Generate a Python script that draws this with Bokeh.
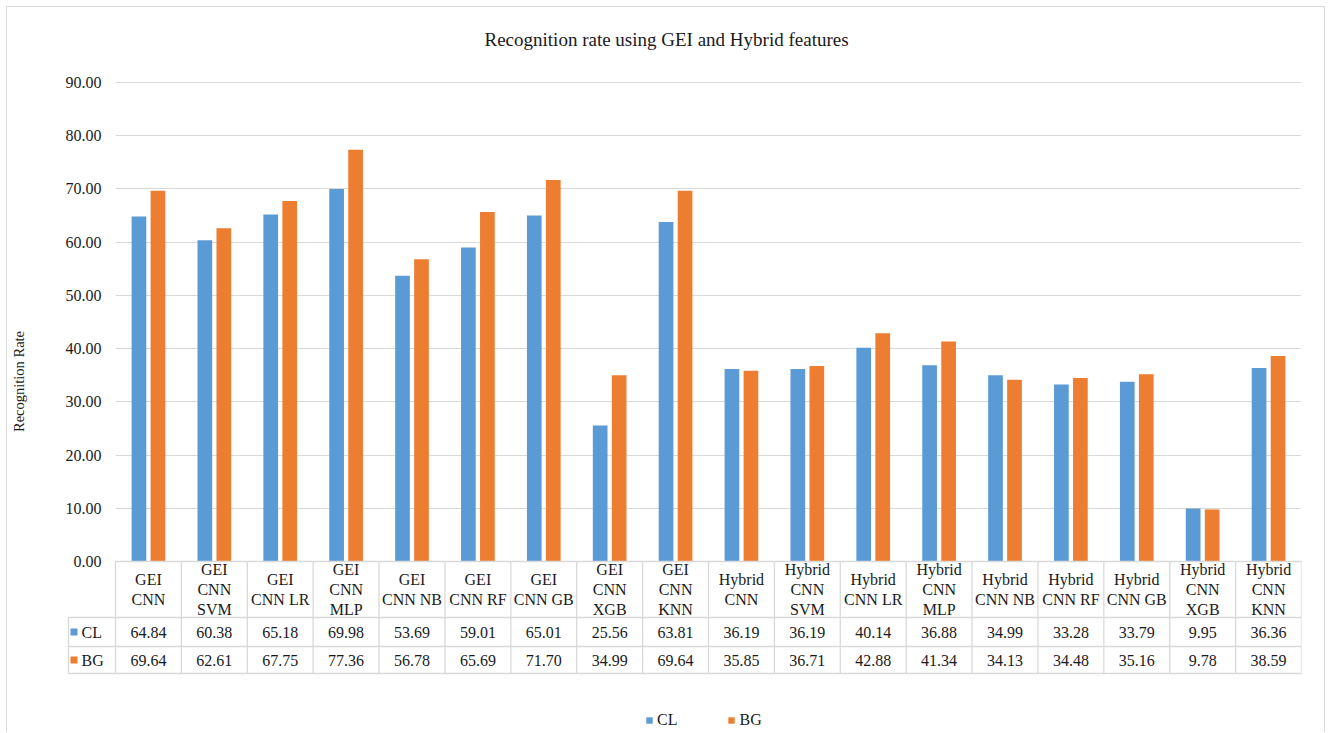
from bokeh.plotting import figure
from bokeh.models import (Range1d, FixedTicker, PrintfTickFormatter, LinearAxis, Title,
                          Legend, LegendItem, ColumnDataSource, Grid)
from bokeh.core.properties import value
from bokeh.transform import dodge
from bokeh.embed import file_html
from bokeh.resources import INLINE

# ---------------- data ----------------
categories = ["GEI\nCNN", "GEI\nCNN\nSVM", "GEI\nCNN LR", "GEI\nCNN\nMLP", "GEI\nCNN NB",
              "GEI\nCNN RF", "GEI\nCNN GB", "GEI\nCNN\nXGB", "GEI\nCNN\nKNN",
              "Hybrid\nCNN", "Hybrid\nCNN\nSVM", "Hybrid\nCNN LR", "Hybrid\nCNN\nMLP",
              "Hybrid\nCNN NB", "Hybrid\nCNN RF", "Hybrid\nCNN GB", "Hybrid\nCNN\nXGB",
              "Hybrid\nCNN\nKNN"]
cl_values = [64.84, 60.38, 65.18, 69.98, 53.69, 59.01, 65.01, 25.56, 63.81,
             36.19, 36.19, 40.14, 36.88, 34.99, 33.28, 33.79, 9.95, 36.36]
bg_values = [69.64, 62.61, 67.75, 77.36, 56.78, 65.69, 71.70, 34.99, 69.64,
             35.85, 36.71, 42.88, 41.34, 34.13, 34.48, 35.16, 9.78, 38.59]
series_names = ["CL", "BG"]
y_ticks = [0, 10, 20, 30, 40, 50, 60, 70, 80, 90]
title_text = "Recognition rate using GEI and Hybrid features"
y_label = "Recognition Rate"

# ---------------- styles / geometry ----------------
FONT = "Liberation Serif"
BLUE = "#5B9BD5"
ORANGE = "#ED7D31"
GRID = "#d9d9d9"
TXT = "#1a1a1a"

W, H = 1319, 726            # canvas size
N = len(categories)
CAT_PX = 1186 / N           # pixel width of one category column
Y_PX = 479 / 90             # pixels per y unit
LEFT_PX = 108               # canvas left edge -> x=0
TOP90_PX = 75               # canvas top -> y=90
FRAME_TOP = 60
FRAME_RIGHT_BORDER = 25

x_start = -LEFT_PX / CAT_PX
y_end = 90 + (TOP90_PX - FRAME_TOP) / Y_PX
y_start = y_end - (H - FRAME_TOP) / Y_PX

def px_y(px):  # pixels below zero line -> data y
    return -px / Y_PX

def px_x(px):  # pixels relative to x=0 -> data x
    return px / CAT_PX

p = figure(width=W, height=H, output_backend="svg", toolbar_location=None,
           x_range=Range1d(x_start, N), y_range=Range1d(y_start, y_end),
           x_axis_location=None, y_axis_location=None,
           min_border_left=0, min_border_right=FRAME_RIGHT_BORDER,
           min_border_top=FRAME_TOP, min_border_bottom=0,
           outline_line_color=None, background_fill_color="white",
           border_fill_color="white", title=None)
p.margin = (6, 0, 0, 6)
p.styles = {"border-top": "1px solid #d9d9d9", "border-left": "1px solid #d9d9d9",
            "border-right": "1px solid #d9d9d9"}
p.xgrid.visible = False
p.ygrid.visible = False

ticker = FixedTicker(ticks=y_ticks)
grid = Grid(dimension=1, ticker=ticker, grid_line_color=GRID, grid_line_width=1)
if "cross_bounds" in Grid.properties():
    grid.cross_bounds = (0, N)
p.add_layout(grid)
if "cross_bounds" not in Grid.properties():
    p.quad(left=x_start, right=0, bottom=0.2, top=90.5, fill_color="white", line_color=None)

# vertical centre of the axis label (canvas px 374)
label_mid = 90 - (374 - TOP90_PX) / Y_PX
yaxis = LinearAxis(fixed_location=0, ticker=ticker, bounds=(2 * label_mid - 90, 90),
                   formatter=PrintfTickFormatter(format="%.2f"),
                   axis_line_color=None, major_tick_line_color=None,
                   minor_tick_line_color=None, major_tick_out=0, major_tick_in=0,
                   major_label_standoff=14,
                   major_label_text_font=FONT, major_label_text_font_size="16px",
                   major_label_text_color=TXT,
                   axis_label=y_label, axis_label_standoff=36,
                   axis_label_text_font=FONT, axis_label_text_font_size="14.5px",
                   axis_label_text_font_style="normal", axis_label_text_color=TXT)
p.add_layout(yaxis, "left")

# ---------------- bars ----------------
DODGE = 9.5 / CAT_PX
BAR_W = 14.7 / CAT_PX
xs = [i + 0.5 for i in range(N)]
src = ColumnDataSource(dict(x=xs, cat=categories, cl=cl_values, bg=bg_values,
                            cl_txt=["%.2f" % v for v in cl_values],
                            bg_txt=["%.2f" % v for v in bg_values]))
r_cl = p.vbar(x=dodge("x", -DODGE), top="cl", width=BAR_W, source=src,
              fill_color=BLUE, line_color=None)
r_bg = p.vbar(x=dodge("x", DODGE), top="bg", width=BAR_W, source=src,
              fill_color=ORANGE, line_color=None)

# ---------------- data table ----------------
HEAD_PX, ROW1_PX, ROW2_PX = 56, 85, 112
y_head = px_y(HEAD_PX)
y_r1 = px_y(ROW1_PX)
y_r2 = px_y(ROW2_PX)
key_left = px_x(-47)

TL = dict(line_color=GRID, line_width=1.3)
p.segment(x0=[0, key_left, key_left, key_left], x1=[N] * 4,
          y0=[0, y_head, y_r1, y_r2], y1=[0, y_head, y_r1, y_r2], **TL)
p.segment(x0=list(range(N + 1)), x1=list(range(N + 1)),
          y0=[0] * (N + 1), y1=[y_r2] * (N + 1), **TL)
p.segment(x0=[key_left], x1=[key_left], y0=[y_head], y1=[y_r2], **TL)

text_common = dict(text_font=value(FONT), text_font_size="16px", text_color=TXT,
                   text_align="center", text_baseline="middle", source=src)
p.text(x="x", y=px_y(HEAD_PX / 2), text="cat", text_line_height=1.15, **text_common)
p.text(x="x", y=px_y((HEAD_PX + ROW1_PX) / 2), text="cl_txt", **text_common)
p.text(x="x", y=px_y((ROW1_PX + ROW2_PX) / 2), text="bg_txt", **text_common)

key_y = [px_y((HEAD_PX + ROW1_PX) / 2), px_y((ROW1_PX + ROW2_PX) / 2)]
p.scatter(x=[px_x(-41.5)] * 2, y=key_y, marker="square", size=7,
          fill_color=[BLUE, ORANGE], line_color=None)
p.text(x=[px_x(-34)] * 2, y=key_y, text=series_names, text_font=value(FONT),
       text_font_size="16px", text_color=TXT, text_align="left", text_baseline="middle")

# ---------------- title ----------------
p.add_layout(Title(text=title_text, align="left", offset=477, text_font=FONT,
                   text_font_size="19px", text_font_style="normal", text_color=TXT,
                   vertical_align="top", standoff=32), "above")

# ---------------- legend ----------------
legend = Legend(items=[LegendItem(label=series_names[0], renderers=[r_cl]),
                       LegendItem(label=series_names[1], renderers=[r_bg])],
                orientation="horizontal", location=(638, 3),
                glyph_width=8, glyph_height=8, label_standoff=4, spacing=50,
                label_height=20, padding=0, margin=0, border_line_color=None,
                background_fill_alpha=0,
                label_text_font=FONT, label_text_font_size="16px", label_text_color=TXT)
p.add_layout(legend, "center")

open("out.html", "w").write(file_html(p, INLINE))
